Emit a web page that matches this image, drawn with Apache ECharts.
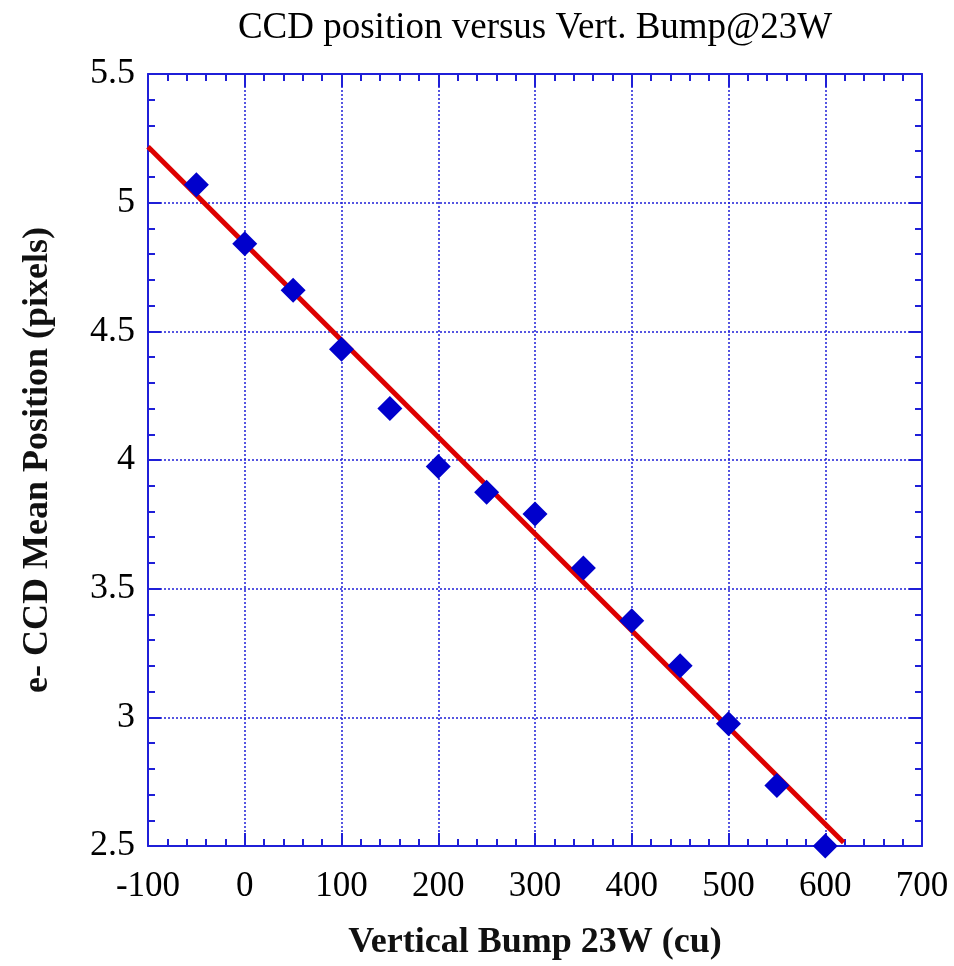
<!DOCTYPE html>
<html><head><meta charset="utf-8">
<script src="https://cdn.jsdelivr.net/npm/echarts@6/dist/echarts.min.js"></script>
<style>html,body{margin:0;padding:0;background:#fff}#c{width:954px;height:966px}</style>
</head><body><div id="c"></div>
<script>
const bumpX = [-50, 0, 50, 100, 150, 200, 250, 300, 350, 400, 450, 500, 550, 600];
const ccdY = [5.07, 4.84, 4.66, 4.43, 4.20, 3.975, 3.875, 3.79, 3.58, 3.375, 3.20, 2.975, 2.735, 2.50];
const fitX = [-100, 619];
const fitY = [5.217, 2.514];
const titleText = 'CCD position versus Vert. Bump@23W';
const xName = 'Vertical Bump 23W (cu)';
const yName = 'e- CCD Mean Position (pixels)';

const blue = '#1f1fd8';
const font = 'Liberation Serif';
const chart = echarts.init(document.getElementById('c'));
const axBase = {
  axisLine: {show: true, onZero: false, lineStyle: {color: blue, width: 2}},
  axisTick: {show: true, inside: true, length: 13, lineStyle: {color: blue, width: 2}},
  minorTick: {show: true, splitNumber: 5, length: 7, lineStyle: {color: blue, width: 2}},
};
chart.setOption({
  animation: false,
  backgroundColor: '#fff',
  title: {text: titleText, left: 530, top: 5, textAlign: 'center',
    textStyle: {fontFamily: font, fontSize: 37, fontWeight: 'normal', color: '#000'}},
  grid: {left: 148, top: 74, right: 32, bottom: 119, containLabel: false},
  xAxis: [
    Object.assign({}, axBase, {type: 'value', min: -100, max: 700, interval: 100, position: 'bottom',
      name: xName, nameLocation: 'middle', nameGap: 79,
      nameTextStyle: {fontFamily: font, fontSize: 36, fontWeight: 'bold', color: '#111'},
      axisLabel: {fontFamily: font, fontSize: 35, fontWeight: 'normal', color: '#000', margin: 23},
      splitLine: {show: true, lineStyle: {color: blue, type: [2, 2], width: 1.5}}}),
    Object.assign({}, axBase, {type: 'value', min: -100, max: 700, interval: 100, position: 'top',
      axisLabel: {show: false}, splitLine: {show: false}})
  ],
  yAxis: [
    Object.assign({}, axBase, {type: 'value', min: 2.5, max: 5.5, interval: 0.5, position: 'left',
      name: yName, nameLocation: 'middle', nameGap: 92, nameRotate: 90,
      nameTextStyle: {fontFamily: font, fontSize: 36, fontWeight: 'bold', color: '#111'},
      axisLabel: {fontFamily: font, fontSize: 36, fontWeight: 'normal', color: '#000', margin: 13},
      splitLine: {show: true, lineStyle: {color: blue, type: [2, 2], width: 1.5}}}),
    Object.assign({}, axBase, {type: 'value', min: 2.5, max: 5.5, interval: 0.5, position: 'right',
      axisLabel: {show: false}, splitLine: {show: false}})
  ],
  series: [
    {type: 'line', data: fitX.map((x, i) => [x, fitY[i]]), symbol: 'none', z: 3,
      lineStyle: {color: '#dd0000', width: 5}},
    {type: 'scatter', data: bumpX.map((x, i) => [x, ccdY[i]]), symbol: 'diamond', symbolSize: 25, z: 4,
      itemStyle: {color: '#0000cc', opacity: 1}}
  ]
});
</script></body></html>
